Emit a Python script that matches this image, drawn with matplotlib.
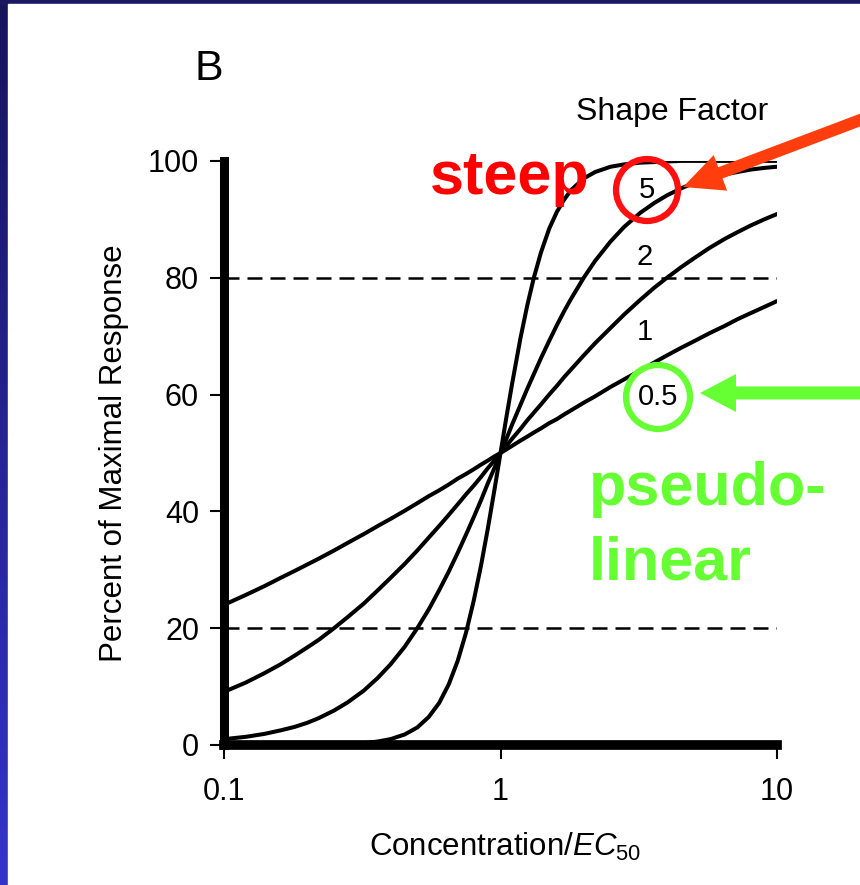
import numpy as np
import matplotlib
matplotlib.use("Agg")
import matplotlib.pyplot as plt
from matplotlib.colors import LinearSegmentedColormap
from matplotlib.patches import Rectangle, Circle, FancyArrow
from matplotlib.ticker import NullLocator

plt.rcParams['font.family'] = ['Liberation Sans', 'DejaVu Sans']
plt.rcParams['mathtext.fontset'] = 'custom'
plt.rcParams['mathtext.rm'] = 'Liberation Sans'
plt.rcParams['mathtext.it'] = 'Liberation Sans:italic'

# concentration / EC50 and percent of maximal response
conc = [0.1, 0.12, 0.14, 0.16, 0.18, 0.2, 0.22, 0.25, 0.28, 0.32, 0.36, 0.4,
        0.45, 0.5, 0.55, 0.6, 0.65, 0.7, 0.75, 0.8, 0.85, 0.9, 0.95, 1.0,
        1.05, 1.1, 1.18, 1.25, 1.32, 1.4, 1.5, 1.6, 1.7, 1.8, 2.0, 2.2,
        2.5, 2.8, 3.2, 3.6, 4.0, 4.5, 5.0, 5.7, 6.5, 7.2, 8.0, 9.0, 10.0]
resp_05 = [24.0, 25.7, 27.2, 28.6, 29.8, 30.9, 31.9, 33.3, 34.6, 36.1, 37.5, 38.7,
           40.1, 41.4, 42.6, 43.6, 44.6, 45.6, 46.4, 47.2, 48.0, 48.7, 49.4, 50.0,
           50.6, 51.2, 52.1, 52.8, 53.5, 54.2, 55.1, 55.8, 56.6, 57.3, 58.6, 59.7,
           61.3, 62.6, 64.1, 65.5, 66.7, 68.0, 69.1, 70.5, 71.8, 72.9, 73.9, 75.0, 76.0]
resp_1 = [9.1, 10.7, 12.3, 13.8, 15.3, 16.7, 18.0, 20.0, 21.9, 24.2, 26.5, 28.6,
          31.0, 33.3, 35.5, 37.5, 39.4, 41.2, 42.9, 44.4, 45.9, 47.4, 48.7, 50.0,
          51.2, 52.4, 54.1, 55.6, 56.9, 58.3, 60.0, 61.5, 63.0, 64.3, 66.7, 68.8,
          71.4, 73.7, 76.2, 78.3, 80.0, 81.8, 83.3, 85.1, 86.7, 87.8, 88.9, 90.0, 90.9]
resp_2 = [1.0, 1.4, 1.9, 2.5, 3.1, 3.8, 4.6, 5.9, 7.3, 9.3, 11.5, 13.8,
          16.8, 20.0, 23.2, 26.5, 29.7, 32.9, 36.0, 39.0, 41.9, 44.8, 47.4, 50.0,
          52.4, 54.8, 58.2, 61.0, 63.5, 66.2, 69.2, 71.9, 74.3, 76.4, 80.0, 82.9,
          86.2, 88.7, 91.1, 92.8, 94.1, 95.3, 96.2, 97.0, 97.7, 98.1, 98.5, 98.8, 99.0]
resp_5 = [0.0, 0.0, 0.0, 0.0, 0.0, 0.0, 0.1, 0.1, 0.2, 0.3, 0.6, 1.0,
          1.8, 3.0, 4.8, 7.2, 10.4, 14.4, 19.2, 24.7, 30.7, 37.1, 43.6, 50.0,
          56.1, 61.7, 69.6, 75.3, 80.0, 84.3, 88.4, 91.3, 93.4, 95.0, 97.0, 98.1,
          99.0, 99.4, 99.7, 99.8, 99.9, 100.0, 100.0, 100.0, 100.0, 100.0, 100.0, 100.0, 100.0]
curves = [resp_05, resp_1, resp_2, resp_5]

# shape factor labels and where they sit (x, y in data units)
shape_labels = ['5', '2', '1', '0.5']
label_x = [3.39, 3.33, 3.33, 3.71]
label_y = [95.0, 83.6, 70.7, 59.6]

ref_lines = [20, 80]
xticks = [0.1, 1, 10]
xtick_labels = ['0.1', '1', '10']
yticks = [0, 20, 40, 60, 80, 100]

fig = plt.figure(figsize=(8.6, 8.85), dpi=100)

# slide background: navy frame with a gradient on the left edge
bg = fig.add_axes([0, 0, 1, 1], zorder=0)
grad = np.linspace(0, 1, 256).reshape(-1, 1)
edge_cmap = LinearSegmentedColormap.from_list('edge', ['#16145a', '#3434cc'])
bg.imshow(grad, cmap=edge_cmap, extent=(0, 8, 885, 0), aspect='auto')
bg.add_patch(Rectangle((0, 0), 860, 4, color='#1a1860'))
bg.add_patch(Rectangle((8, 4), 852, 881, color='white'))
bg.set_xlim(0, 860)
bg.set_ylim(885, 0)
bg.axis('off')

# main chart
ax = fig.add_axes([0.2605, 0.1582, 0.643, 0.660], zorder=1)
ax.patch.set_alpha(0)
for resp in curves:
    ax.plot(conc, resp, color='black', lw=2.9, solid_capstyle='round')
for yv in ref_lines:
    ax.axhline(yv, color='black', lw=1.8, dashes=(6, 3.2))

ax.set_xscale('log')
ax.set_xlim(0.1, 10)
ax.set_ylim(0, 100)
ax.set_xticks(xticks)
ax.set_xticklabels(xtick_labels)
ax.xaxis.set_minor_locator(NullLocator())
ax.set_yticks(yticks)
ax.tick_params(direction='out', length=10, width=1.5, labelsize=22)
ax.tick_params(axis='x', pad=13)
ax.tick_params(axis='y', pad=8)
ax.spines['top'].set_visible(False)
ax.spines['right'].set_visible(False)
ax.spines['left'].set_linewidth(6.5)
ax.spines['bottom'].set_linewidth(7)

for lab, lx, ly in zip(shape_labels, label_x, label_y):
    ax.text(lx, ly, lab, fontsize=21, ha='center', va='center')

ax.set_ylabel('Percent of Maximal Response', fontsize=22.5)
ax.yaxis.set_label_coords(-0.172, 0.5)
ax.set_xlabel('Concentration/$\\mathit{EC}_{50}$', fontsize=22.5)
ax.xaxis.set_label_coords(0.508, -0.147)

# slide annotations drawn in pixel units
ov = fig.add_axes([0, 0, 1, 1], zorder=3)
ov.set_xlim(0, 860)
ov.set_ylim(885, 0)
ov.axis('off')
ov.patch.set_alpha(0)

ov.text(195, 80, 'B', fontsize=31, va='baseline', ha='left')
ov.text(672, 120, 'Shape Factor', fontsize=23, ha='center', va='baseline')
ov.text(430, 194, 'steep', color='#ff0000', fontsize=44, fontweight='bold', va='baseline')
ov.text(589, 505, 'pseudo-', color='#66ff33', fontsize=44, fontweight='bold', va='baseline')
ov.text(589, 580, 'linear', color='#66ff33', fontsize=44, fontweight='bold', va='baseline')

ov.add_patch(Circle((647, 190), 31, fill=False, ec='#ff1010', lw=4.5))
ov.add_patch(Circle((658, 397), 32, fill=False, ec='#66ff33', lw=4.5))
ov.add_patch(FancyArrow(900, 105, -217, 82, width=12, head_width=38, head_length=40,
                        length_includes_head=True, color='#ff3d0d', lw=0))
ov.add_patch(FancyArrow(880, 393, -180, 0, width=13, head_width=38, head_length=36,
                        length_includes_head=True, color='#66ff33', lw=0))

fig.savefig('out.png', dpi=100)
